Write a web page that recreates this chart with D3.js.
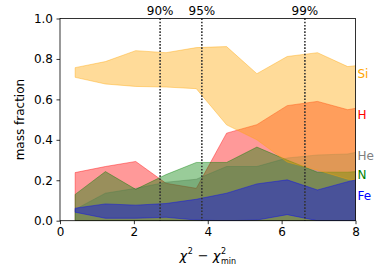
<!DOCTYPE html>
<html>
<head>
<meta charset="utf-8">
<script src="https://cdn.jsdelivr.net/npm/d3@7"></script>
<style>
  html, body { margin: 0; padding: 0; background: #fff; }
  svg text { font-family: "DejaVu Sans", sans-serif; }
</style>
</head>
<body>
<div id="chart"></div>
<script>
// chi^2 - chi^2_min bin centres
var xs = [0.41, 1.23, 2.05, 2.87, 3.69, 4.51, 5.33, 6.15, 6.97, 7.79, 8.61];

// mass fraction ranges (lower / upper) per element
var hLo  = [0, 0, 0, 0, 0, 0, 0, 0, 0, 0, 0];
var hHi  = [0.238, 0.268, 0.293, 0.185, 0.16, 0.433, 0.475, 0.569, 0.59, 0.549, 0.575];
var heLo = [0, 0, 0, 0, 0, 0, 0, 0, 0, 0, 0];
var heHi = [0.056, 0.136, 0.16, 0.19, 0.205, 0.268, 0.268, 0.31, 0.325, 0.33, 0.36];
var nLo  = [0, 0, 0, 0, 0, 0, 0, 0, 0, 0, 0];
var nHi  = [0.13, 0.243, 0.155, 0.228, 0.288, 0.288, 0.364, 0.30, 0.24, 0.24, 0.25];
var siLo = [0.709, 0.676, 0.664, 0.661, 0.653, 0.474, 0.40, 0.29, 0.25, 0.205, 0.195];
var siHi = [0.757, 0.787, 0.841, 0.831, 0.856, 0.861, 0.727, 0.812, 0.831, 0.762, 0.78];
var feLo = [0.042, 0.012, 0.012, 0.017, 0.003, 0.0, 0.003, 0.03, 0.0, 0.0, 0.0];
var feHi = [0.062, 0.083, 0.077, 0.085, 0.106, 0.136, 0.182, 0.202, 0.152, 0.193, 0.225];

// confidence thresholds (1 dof)
var confX = [2.71, 3.84, 6.63];
var confLabels = ["90%", "95%", "99%"];

// label on the right, with its y value
var elemNames = ["Si", "H", "He", "N", "Fe"];
var elemLabelY = [0.727, 0.524, 0.321, 0.226, 0.125];

var xTicks = [0, 2, 4, 6, 8];
var yTicks = [0.0, 0.2, 0.4, 0.6, 0.8, 1.0];

var bands = [
    {name: "H",  lo: hLo,  hi: hHi,  color: "red"},
    {name: "He", lo: heLo, hi: heHi, color: "gray"},
    {name: "N",  lo: nLo,  hi: nHi,  color: "green"},
    {name: "Si", lo: siLo, hi: siHi, color: "orange"},
    {name: "Fe", lo: feLo, hi: feHi, color: "blue"}
];
var labelColors = {Si: "orange", H: "red", He: "gray", N: "green", Fe: "blue"};

var margin = {left: 60, right: 18.5, top: 18.5, bottom: 59.3};
var W = 374, H = 280;
var width = W - margin.left - margin.right;
var height = H - margin.top - margin.bottom;

var x = d3.scaleLinear().domain([0, 8]).range([0, width]);
var y = d3.scaleLinear().domain([0, 1]).range([height, 0]);

var svg = d3.select("#chart").append("svg")
    .attr("width", W).attr("height", H)
    .append("g")
    .attr("transform", "translate(" + margin.left + "," + margin.top + ")");

svg.append("clipPath").attr("id", "clip")
    .append("rect").attr("width", width).attr("height", height);

var plot = svg.append("g").attr("clip-path", "url(#clip)");

bands.forEach(function(b) {
    var pts = xs.map(function(v, i) { return [v, b.lo[i], b.hi[i]]; });
    var area = d3.area()
        .x(function(d) { return x(d[0]); })
        .y0(function(d) { return y(d[1]); })
        .y1(function(d) { return y(d[2]); });
    plot.append("path")
        .datum(pts)
        .attr("d", area)
        .attr("fill", b.color)
        .attr("fill-opacity", 0.4)
        .attr("stroke", b.color)
        .attr("stroke-opacity", 0.4)
        .attr("stroke-width", 1);
});

// dotted confidence lines
svg.selectAll(".conf")
    .data(confX)
    .enter().append("line")
    .attr("x1", function(d) { return x(d); })
    .attr("x2", function(d) { return x(d); })
    .attr("y1", 0).attr("y2", height)
    .attr("stroke", "#333")
    .attr("stroke-width", 1.6)
    .attr("stroke-dasharray", "1.6,1.6");

svg.selectAll(".conflab")
    .data(confX)
    .enter().append("text")
    .attr("x", function(d) { return x(d); })
    .attr("y", -3.5)
    .attr("text-anchor", "middle")
    .style("font-size", "12px")
    .text(function(d, i) { return confLabels[i]; });

// axes
var xAxis = d3.axisBottom(x).tickValues(xTicks).tickFormat(d3.format("d")).tickSize(3.5).tickPadding(3.5);
var yAxis = d3.axisLeft(y).tickValues(yTicks).tickFormat(d3.format(".1f")).tickSize(3.5).tickPadding(3.5);

var gx = svg.append("g").attr("transform", "translate(0," + height + ")").call(xAxis);
var gy = svg.append("g").call(yAxis);
[gx, gy].forEach(function(g) {
    g.select(".domain").remove();
    g.selectAll("line").attr("stroke", "#000").attr("stroke-width", 0.8);
    g.selectAll("text").style("font-size", "12px").style("font-family", "DejaVu Sans").attr("fill", "#000");
});

svg.append("rect")
    .attr("width", width).attr("height", height)
    .attr("fill", "none").attr("stroke", "#000").attr("stroke-width", 0.8);

// element labels at right
svg.selectAll(".elab")
    .data(elemNames)
    .enter().append("text")
    .attr("x", width + 2)
    .attr("y", function(d, i) { return y(elemLabelY[i]); })
    .attr("dy", "0.35em")
    .attr("fill", function(d) { return labelColors[d]; })
    .style("font-size", "12px")
    .text(function(d) { return d; });

// y label
svg.append("text")
    .attr("transform", "rotate(-90)")
    .attr("x", -height / 2)
    .attr("y", -36)
    .attr("text-anchor", "middle")
    .style("font-size", "12px")
    .text("mass fraction");

// x label: chi^2 - chi^2_min
var xl = svg.append("g");
var bx = 0, base = height + 39;
function piece(txt, dx, dy, size, italic) {
    var t = xl.append("text")
        .attr("x", bx + dx).attr("y", base + dy)
        .style("font-size", size + "px")
        .style("font-style", italic ? "italic" : "normal")
        .text(txt);
    return t.node().getComputedTextLength();
}
bx += piece("\u03C7", 0, 0, 13, true);
bx += piece("2", 0.5, -6, 8, false) + 1.5;
bx += piece("\u2212", 4, 0, 13, false) + 8;
bx += piece("\u03C7", 0, 0, 13, true);
piece("2", 0.5, -6, 8, false);
bx += piece("min", 0.5, 4, 8, false) + 0.5;
var wtot = bx;
xl.attr("transform", "translate(" + (width / 2 - wtot / 2) + ",0)");
</script>
</body>
</html>
